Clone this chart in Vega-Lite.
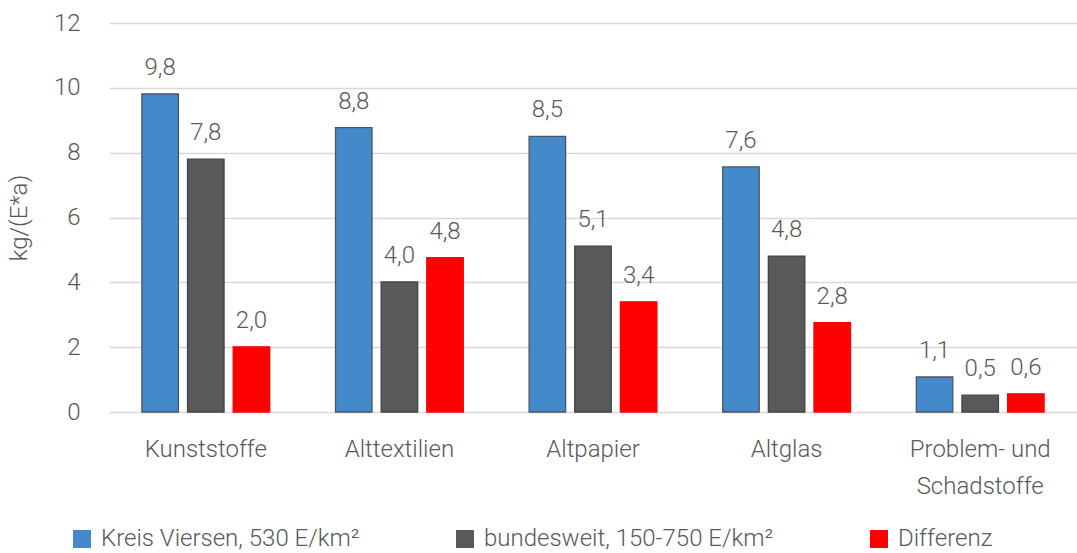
{
  "$schema": "https://vega.github.io/schema/vega-lite/v6.json",
  "autosize": {"type": "none"},
  "width": 968,
  "height": 389,
  "padding": {"left": 109, "top": 23, "right": 0, "bottom": 141},
  "background": "white",
  "data": {
    "values": [
      {"kategorie": "Kunststoffe", "serie": "Kreis Viersen, 530 E/km²", "wert": 9.81},
      {"kategorie": "Kunststoffe", "serie": "bundesweit, 150-750 E/km²", "wert": 7.8},
      {"kategorie": "Kunststoffe", "serie": "Differenz", "wert": 2.01},
      {"kategorie": "Alttextilien", "serie": "Kreis Viersen, 530 E/km²", "wert": 8.77},
      {"kategorie": "Alttextilien", "serie": "bundesweit, 150-750 E/km²", "wert": 4.01},
      {"kategorie": "Alttextilien", "serie": "Differenz", "wert": 4.76},
      {"kategorie": "Altpapier", "serie": "Kreis Viersen, 530 E/km²", "wert": 8.5},
      {"kategorie": "Altpapier", "serie": "bundesweit, 150-750 E/km²", "wert": 5.12},
      {"kategorie": "Altpapier", "serie": "Differenz", "wert": 3.4},
      {"kategorie": "Altglas", "serie": "Kreis Viersen, 530 E/km²", "wert": 7.56},
      {"kategorie": "Altglas", "serie": "bundesweit, 150-750 E/km²", "wert": 4.81},
      {"kategorie": "Altglas", "serie": "Differenz", "wert": 2.76},
      {"kategorie": "Problem- und Schadstoffe", "serie": "Kreis Viersen, 530 E/km²", "wert": 1.08},
      {"kategorie": "Problem- und Schadstoffe", "serie": "bundesweit, 150-750 E/km²", "wert": 0.52},
      {"kategorie": "Problem- und Schadstoffe", "serie": "Differenz", "wert": 0.56}
    ]
  },
  "encoding": {
    "x": {
      "field": "kategorie",
      "type": "nominal",
      "sort": null,
      "scale": {"paddingInner": 0.34, "paddingOuter": 0.17},
      "axis": {
        "title": null,
        "labelAngle": 0,
        "domain": false,
        "ticks": false,
        "labelPadding": 25,
        "labelFontSize": 24,
        "labelLineHeight": 37,
        "labelExpr": "datum.value == 'Problem- und Schadstoffe' ? ['Problem- und', 'Schadstoffe'] : datum.value"
      }
    },
    "xOffset": {
      "field": "serie",
      "type": "nominal",
      "sort": ["Kreis Viersen, 530 E/km²", "bundesweit, 150-750 E/km²", "Differenz"],
      "scale": {"paddingInner": 0.2, "paddingOuter": 0}
    },
    "y": {
      "field": "wert",
      "type": "quantitative",
      "scale": {"domain": [0, 12], "nice": false},
      "axis": {
        "title": "kg/(E*a)",
        "values": [0, 2, 4, 6, 8, 10, 12],
        "format": "d",
        "domain": false,
        "ticks": false,
        "labelPadding": 29,
        "labelFontSize": 24,
        "titleFontSize": 24,
        "titlePadding": 22,
        "gridColor": "#d9d9d9",
        "gridWidth": 1.3
      }
    }
  },
  "layer": [
    {
      "mark": {"type": "bar", "strokeWidth": 1.3},
      "encoding": {
        "color": {
          "field": "serie",
          "type": "nominal",
          "sort": ["Kreis Viersen, 530 E/km²", "bundesweit, 150-750 E/km²", "Differenz"],
          "scale": {
            "domain": ["Kreis Viersen, 530 E/km²", "bundesweit, 150-750 E/km²", "Differenz"],
            "range": ["#448ACA", "#595959", "#FF0000"]
          },
          "legend": {
            "title": null,
            "orient": "none",
            "direction": "horizontal",
            "columns": 3,
            "columnPadding": 93,
            "legendX": -39,
            "legendY": 504,
            "symbolType": "square",
            "symbolSize": 324,
            "symbolStrokeWidth": 0,
            "labelFontSize": 24,
            "labelOffset": 7,
            "labelLimit": 400
          }
        },
        "stroke": {
          "field": "serie",
          "type": "nominal",
          "scale": {
            "domain": ["Kreis Viersen, 530 E/km²", "bundesweit, 150-750 E/km²", "Differenz"],
            "range": ["#4a5663", "#444444", "#FF0000"]
          },
          "legend": null
        }
      }
    },
    {
      "mark": {"type": "text", "baseline": "alphabetic", "dy": -19, "fontSize": 24, "color": "#595959"},
      "encoding": {
        "text": {"field": "wert", "type": "quantitative", "format": ".1f"}
      }
    }
  ],
  "config": {
    "locale": {
      "number": {"decimal": ",", "thousands": ".", "grouping": [3], "currency": ["", " €"]}
    },
    "font": "Roboto",
    "view": {"stroke": null},
    "axis": {
      "labelFont": "Roboto",
      "titleFont": "Roboto",
      "labelColor": "#595959",
      "titleColor": "#595959",
      "labelFontWeight": 300,
      "titleFontWeight": 300
    },
    "legend": {"labelFont": "Roboto", "labelColor": "#595959", "labelFontWeight": 300},
    "text": {"font": "Roboto", "fontWeight": 300}
  }
}
